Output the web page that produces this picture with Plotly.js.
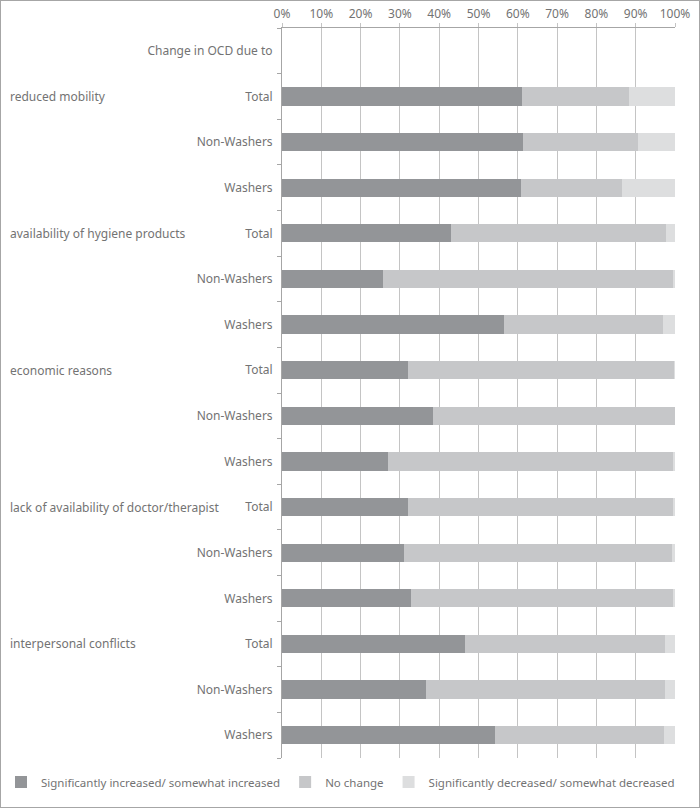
<!DOCTYPE html>
<html>
<head>
<meta charset="utf-8">
<script src="https://cdn.plot.ly/plotly-3.0.1.min.js"></script>
<style>
  body { margin: 0; background: #fff; }
  #chart { width: 698px; height: 806px; border: 1px solid #a6a6a6; }
</style>
</head>
<body>
<div id="chart"></div>
<script>
// groups (causes) and subgroups, top to bottom
const headerLabel = 'Change in OCD due to';
const causes = ['reduced mobility', 'availability of hygiene products', 'economic reasons',
                'lack of availability of doctor/therapist', 'interpersonal conflicts'];
const subgroups = ['Total', 'Non-Washers', 'Washers'];

// percentages per row (cause x subgroup, same order as above)
const increased = [61.1, 61.4, 60.9,  43.1, 25.6, 56.5,  32.0, 38.5, 27.0,  32.1, 31.0, 32.8,  46.6, 36.7, 54.2];
const noChange  = [27.2, 29.2, 25.7,  54.7, 73.8, 40.4,  67.8, 61.5, 72.6,  67.4, 68.3, 66.7,  50.8, 60.8, 43.0];
const decreased = [11.7,  9.4, 13.4,   2.2,  0.6,  3.1,   0.2,  0.0,  0.4,   0.5,  0.7,  0.5,   2.6,  2.5,  2.8];

const seriesNames = ['Significantly increased/ somewhat increased', 'No change',
                     'Significantly decreased/ somewhat decreased'];
const seriesColors = ['#939598', '#c6c7c9', '#dddedf'];

const xTicks = [0, 10, 20, 30, 40, 50, 60, 70, 80, 90, 100];

// build unique category keys: header row first, then cause|subgroup
let cats = [headerLabel];
let catText = [headerLabel];
causes.forEach(function(c){
    subgroups.forEach(function(s){
        cats.push(c + '|' + s);
        catText.push(s);
    });
});

const data = [increased, noChange, decreased].map(function(vals, i){
    return {
        type: 'bar',
        orientation: 'h',
        y: cats,
        x: [null].concat(vals),   // header row has no bar
        name: seriesNames[i],
        marker: { color: seriesColors[i], line: { width: 0 } },
        hoverinfo: 'x+name'
    };
});

// cause labels on the left, on the Total row
const annotations = causes.map(function(c){
    return {
        text: c,
        xref: 'paper', yref: 'y',
        x: -0.698, y: c + '|Total',
        xanchor: 'left', yanchor: 'middle',
        showarrow: false,
        font: { size: 12, color: '#737373' }
    };
});

const layout = {
    width: 698,
    height: 806,
    font: { family: 'Noto Sans, sans-serif', size: 12, color: '#737373' },
    barmode: 'stack',
    bargap: 0.6,
    margin: { l: 281, r: 24, t: 27, b: 49, pad: 0, autoexpand: false },
    paper_bgcolor: '#fff',
    plot_bgcolor: '#fff',
    xaxis: {
        side: 'top',
        range: [0, 100],
        tickvals: xTicks,
        ticktext: xTicks.map(function(v){ return v + '%'; }),
        showgrid: true,
        gridcolor: '#c4c4c4',
        gridwidth: 1,
        zeroline: false,
        showline: true,
        linecolor: '#a6a6a6',
        ticks: 'outside',
        ticklen: 4,
        tickcolor: '#c4c4c4',
        tickfont: { size: 12, color: '#737373' },
        fixedrange: true
    },
    yaxis: {
        type: 'category',
        categoryorder: 'array',
        categoryarray: cats,
        autorange: 'reversed',
        tickvals: cats,
        ticktext: catText,
        tickson: 'boundaries',
        ticks: 'outside',
        ticklen: 4,
        tickcolor: '#a6a6a6',
        showline: true,
        linecolor: '#a6a6a6',
        showgrid: false,
        ticklabelstandoff: 6,
        tickfont: { size: 12, color: '#737373' },
        fixedrange: true
    },
    legend: {
        orientation: 'h',
        x: -0.715, xanchor: 'left',
        y: -0.033, yanchor: 'middle',
        itemwidth: 30,
        font: { size: 11.5, color: '#737373' },
        traceorder: 'normal'
    },
    annotations: annotations,
    showlegend: true
};

Plotly.newPlot('chart', data, layout, { displayModeBar: false, staticPlot: true });
</script>
</body>
</html>
